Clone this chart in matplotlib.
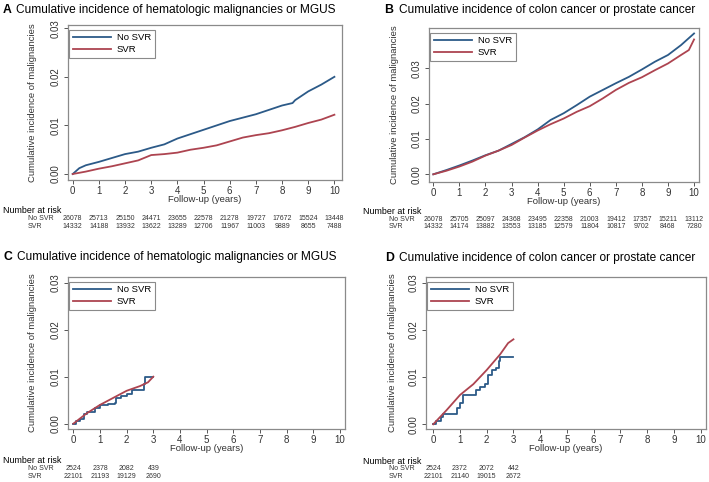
import matplotlib
matplotlib.use("Agg")
import matplotlib.pyplot as plt
from matplotlib.transforms import blended_transform_factory

plt.rcParams['font.family'] = ['Liberation Sans', 'DejaVu Sans']

BLUE = '#2c5a88'
RED = '#ad4450'
GRAY = '#8a8a8a'
TXT = '#333333'

# ---------------- data ----------------
titles = ["Cumulative incidence of hematologic malignancies or MGUS",
          "Cumulative incidence of colon cancer or prostate cancer",
          "Cumulative incidence of hematologic malignancies or MGUS",
          "Cumulative incidence of colon cancer or prostate cancer"]
letters = ["A", "B", "C", "D"]
series_names = ["No SVR", "SVR"]

# Panel A
a_t = [0, 0.25, 0.5, 1, 1.5, 2, 2.5, 3, 3.5, 4, 4.5, 5, 5.5, 6, 6.5, 7, 7.5, 8, 8.4, 8.5, 9, 9.5, 10]
a_nosvr = [0, 0.0012, 0.0018, 0.0025, 0.0033, 0.0041, 0.0046, 0.0054, 0.0061, 0.0073, 0.0082,
           0.0091, 0.0100, 0.0109, 0.0116, 0.0123, 0.0132, 0.0141, 0.0146, 0.0152, 0.0170, 0.0184, 0.0200]
a_t2 = [0, 0.1, 0.5, 1, 1.5, 2, 2.5, 3, 3.5, 4, 4.5, 5, 5.5, 6, 6.5, 7, 7.5, 8, 8.5, 9, 9.5, 10]
a_svr = [0, 0.0001, 0.0005, 0.0011, 0.0016, 0.0022, 0.0028, 0.0039, 0.0041, 0.0044, 0.0050,
         0.0054, 0.0059, 0.0067, 0.0075, 0.0080, 0.0084, 0.0090, 0.0097, 0.0105, 0.0112, 0.0122]

# Panel B
b_t = [0, 0.5, 1, 1.5, 2, 2.5, 3, 3.5, 4, 4.5, 5, 5.5, 6, 6.5, 7, 7.5, 8, 8.5, 9, 9.5, 10]
b_nosvr = [0, 0.0012, 0.0025, 0.0039, 0.0054, 0.0067, 0.0086, 0.0105, 0.0127, 0.0154, 0.0173,
           0.0196, 0.0220, 0.0239, 0.0258, 0.0276, 0.0297, 0.0319, 0.0338, 0.0366, 0.0399]
b_t2 = [0, 0.5, 1, 1.5, 2, 2.5, 3, 3.5, 4, 4.5, 5, 5.5, 6, 6.5, 7, 7.5, 8, 8.5, 9, 9.5, 9.8, 10]
b_svr = [0, 0.0010, 0.0022, 0.0036, 0.0053, 0.0067, 0.0083, 0.0104, 0.0124, 0.0142, 0.0158,
         0.0177, 0.0193, 0.0215, 0.0239, 0.0259, 0.0275, 0.0295, 0.0314, 0.0338, 0.0352, 0.0382]

# Panel C (steps for No SVR)
c_t = [0, 0.1, 0.25, 0.4, 0.5, 0.8, 1.0, 1.3, 1.55, 1.6, 1.8, 2.0, 2.2, 2.65, 2.7, 3.0]
c_nosvr = [0, 0.0005, 0.0009, 0.0021, 0.0025, 0.0034, 0.0039, 0.0041, 0.0045, 0.0055, 0.0058,
           0.0063, 0.0071, 0.0084, 0.0100, 0.0100]
c_t2 = [0, 0.5, 1, 1.5, 2, 2.5, 2.8, 3]
c_svr = [0, 0.0022, 0.0040, 0.0055, 0.0070, 0.0080, 0.0088, 0.0100]

# Panel D
d_t = [0, 0.1, 0.3, 0.35, 0.85, 0.9, 1.0, 1.1, 1.6, 1.75, 1.95, 2.05, 2.2, 2.35, 2.45, 2.5, 3.0]
d_nosvr = [0, 0.0007, 0.0015, 0.0021, 0.0021, 0.0035, 0.0045, 0.0062, 0.0072, 0.0078, 0.0085,
           0.0105, 0.0115, 0.0120, 0.0135, 0.0143, 0.0143]
d_t2 = [0, 0.5, 1, 1.5, 2, 2.5, 2.8, 3]
d_svr = [0, 0.0030, 0.0062, 0.0085, 0.0115, 0.0148, 0.0172, 0.0180]

x_ticks = [0, 1, 2, 3, 4, 5, 6, 7, 8, 9, 10]
a_y_ticks = [0.0, 0.01, 0.02, 0.03]
b_y_ticks = [0.0, 0.01, 0.02, 0.03]

risk_years_full = [0, 1, 2, 3, 4, 5, 6, 7, 8, 9, 10]
risk_years_short = [0, 1, 2, 3]
a_risk_nosvr = [26078, 25713, 25150, 24471, 23655, 22578, 21278, 19727, 17672, 15524, 13448]
a_risk_svr = [14332, 14188, 13932, 13622, 13289, 12706, 11967, 11003, 9889, 8655, 7488]
b_risk_nosvr = [26078, 25705, 25097, 24368, 23495, 22358, 21003, 19412, 17357, 15211, 13112]
b_risk_svr = [14332, 14174, 13882, 13553, 13185, 12579, 11804, 10817, 9702, 8468, 7280]
c_risk_nosvr = [2524, 2378, 2082, 439]
c_risk_svr = [22101, 21193, 19129, 2690]
d_risk_nosvr = [2524, 2372, 2072, 442]
d_risk_svr = [22101, 21140, 19015, 2672]

# ---------------- layout ----------------
W, H = 709, 482
fig = plt.figure(figsize=(W / 100, H / 100), dpi=100)


def px_axes(l, t, r, b):
    return fig.add_axes([l / W, 1 - b / H, (r - l) / W, (b - t) / H])


panels = [
    dict(box=(68, 25, 342, 180), xlim=(-0.18, 10.29), ylim=(-0.00123, 0.03066), yt=a_y_ticks,
         lines=[(a_t, a_nosvr, None), (a_t2, a_svr, None)],
         risk=(risk_years_full, a_risk_nosvr, a_risk_svr),
         title_xy=(3, 10, 16), nar=(3, 210.5, 219, 227), lab_x=28, ylab_x=37),
    dict(box=(429, 28, 699, 182), xlim=(-0.165, 10.19), ylim=(-0.00218, 0.04145), yt=b_y_ticks,
         lines=[(b_t, b_nosvr, None), (b_t2, b_svr, None)],
         risk=(risk_years_full, b_risk_nosvr, b_risk_svr),
         title_xy=(384, 10, 399), nar=(363, 211, 219.5, 227), lab_x=389, ylab_x=399),
    dict(box=(68, 277, 345, 429), xlim=(-0.2, 10.19), ylim=(-0.00113, 0.0312), yt=a_y_ticks,
         lines=[(c_t, c_nosvr, 'steps-post'), (c_t2, c_svr, None)],
         risk=(risk_years_short, c_risk_nosvr, c_risk_svr),
         title_xy=(3, 257, 17), nar=(3, 460.5, 468.7, 476.3), lab_x=28, ylab_x=37),
    dict(box=(426, 277, 706, 429), xlim=(-0.27, 10.2), ylim=(-0.001, 0.0312), yt=a_y_ticks,
         lines=[(d_t, d_nosvr, 'steps-post'), (d_t2, d_svr, None)],
         risk=(risk_years_short, d_risk_nosvr, d_risk_svr),
         title_xy=(385, 258, 399), nar=(363, 461, 468.7, 476), lab_x=389, ylab_x=397),
]

for i, p in enumerate(panels):
    ax = px_axes(*p['box'])
    l, t, r, b = p['box']
    colors = [BLUE, RED]
    for (tt, v, ds), c, name in zip(p['lines'], colors, series_names):
        ax.plot(tt, v, color=c, lw=1.3, drawstyle=ds if ds else 'default', label=name)
    ax.set_xlim(*p['xlim'])
    ax.set_ylim(*p['ylim'])
    ax.set_xticks(x_ticks)
    ax.set_yticks(p['yt'])
    ax.set_yticklabels([f"{v:.2f}" for v in p['yt']], rotation=90, va='center')
    ax.tick_params(axis='both', labelsize=7, length=3, width=0.7, color='#555555',
                   labelcolor=TXT, pad=2)
    ax.tick_params(axis='x', pad=1.5)
    for s in ax.spines.values():
        s.set_color(GRAY)
        s.set_linewidth(0.9)
    ax.set_xlabel("Follow-up (years)", fontsize=6.8, labelpad=-1, color=TXT)
    ax.set_ylabel("Cumulative incidence of malignancies", fontsize=6.8, color=TXT)
    ax.yaxis.set_label_coords((p['ylab_x'] - l) / (r - l), 0.5)
    leg = ax.legend(loc='upper left', bbox_to_anchor=(0.005, 0.97), borderaxespad=0,
                    fontsize=6.8, handlelength=4.0, handletextpad=0.6, labelspacing=0.3,
                    borderpad=0.4, fancybox=False, framealpha=1, edgecolor=GRAY)
    leg.get_frame().set_linewidth(0.8)

    tx, ty, tx2 = p['title_xy']
    fig.text(tx / W, 1 - ty / H, letters[i], fontsize=8.8, fontweight='bold', va='center', ha='left')
    fig.text(tx2 / W, 1 - ty / H, titles[i], fontsize=8.6, va='center', ha='left')

    nx, ny, r1, r2 = p['nar']
    fig.text(nx / W, 1 - ny / H, "Number at risk", fontsize=6.4, va='center', ha='left')
    fig.text(p['lab_x'] / W, 1 - r1 / H, "No SVR", fontsize=5.0, va='center', ha='left', color=TXT)
    fig.text(p['lab_x'] / W, 1 - r2 / H, "SVR", fontsize=5.0, va='center', ha='left', color=TXT)
    trans = blended_transform_factory(ax.transData, fig.transFigure)
    yrs, n1, n2 = p['risk']
    for yr, a, bb in zip(yrs, n1, n2):
        ax.text(yr, 1 - r1 / H, str(a), transform=trans, fontsize=5.0, ha='center', va='center',
                clip_on=False, color=TXT)
        ax.text(yr, 1 - r2 / H, str(bb), transform=trans, fontsize=5.0, ha='center', va='center',
                clip_on=False, color=TXT)

fig.savefig("out.png", dpi=100)
